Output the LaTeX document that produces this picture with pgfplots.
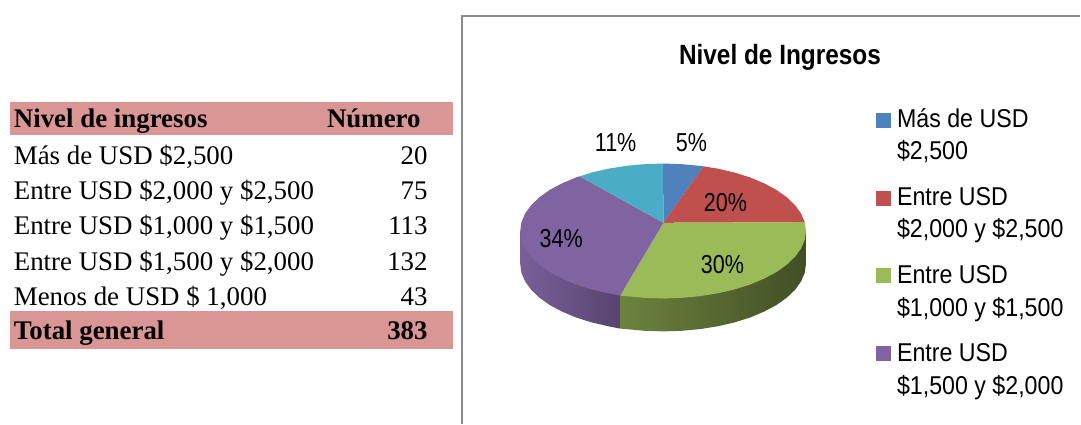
\documentclass[border=0pt]{standalone}
\usepackage{fontspec}
\usepackage{pgfplots}
\pgfplotsset{compat=1.18}
\setmainfont{Liberation Serif}
\newfontfamily\narrowsans[FakeStretch=0.9]{Liberation Sans}
\newfontfamily\pctsans[FakeStretch=0.83]{Liberation Sans}
\newfontfamily\narrowbold[FakeStretch=0.875]{Liberation Sans}

\definecolor{pieBlue}{HTML}{4F81BD}
\definecolor{pieRed}{HTML}{C0504D}
\definecolor{pieGreen}{HTML}{9BBB59}
\definecolor{piePurple}{HTML}{8064A2}
\definecolor{pieCyan}{HTML}{4BACC6}
\definecolor{band}{HTML}{D99694}
\definecolor{frame}{HTML}{8A8A8A}

\tikzset{
    tbl/.style={anchor=base west, inner sep=0pt, font=\fontsize{26.9}{30}\selectfont},
    num/.style={anchor=base east, inner sep=0pt, font=\fontsize{26.9}{30}\selectfont},
    leg/.style={anchor=base west, inner sep=0pt, font=\fontsize{25.8}{30}\narrowsans},
    pct/.style={anchor=base, inner sep=0pt, font=\fontsize{26}{28}\pctsans},
}

\begin{document}
\begin{tikzpicture}
\begin{axis}[
    scale only axis,
    x=1pt, y=1pt,
    xmin=-0.7, xmax=1080.3,
    ymin=-0.7, ymax=423.3,
    y dir=reverse,
    hide axis,
    clip=false,
]

% page background, keeps the picture at full size
\addplot[draw=none, fill=white] coordinates {(-0.7,-0.7) (1080.3,-0.7) (1080.3,423.3) (-0.7,423.3)} --cycle;

% table bands
\addplot[draw=none, fill=band] coordinates {(9,101) (453,101) (453,134) (9,134)} --cycle;
\addplot[draw=none, fill=band] coordinates {(9,311) (453,311) (453,349) (9,349)} --cycle;

% table text
\node[tbl] at (axis cs:13,127) {\bfseries Nivel de ingresos};
\node[num] at (axis cs:420.5,127) {\bfseries Número};
\node[tbl] at (axis cs:13,164) {Más de USD \$2,500};
\node[num] at (axis cs:427.5,164) {20};
\node[tbl] at (axis cs:13,199) {Entre USD \$2,000 y \$2,500};
\node[num] at (axis cs:427.5,199) {75};
\node[tbl] at (axis cs:13,234.5) {Entre USD \$1,000 y \$1,500};
\node[num] at (axis cs:427.5,234.5) {113};
\node[tbl] at (axis cs:13,270) {Entre USD \$1,500 y \$2,000};
\node[num] at (axis cs:427.5,270) {132};
\node[tbl] at (axis cs:13,305) {Menos de USD \$ 1,000};
\node[num] at (axis cs:427.5,305) {43};
\node[tbl] at (axis cs:13,339) {\bfseries Total general};
\node[num] at (axis cs:427.5,339) {\bfseries 383};

% chart frame
\addplot[frame, line width=2pt] coordinates {(461.5,423.3) (461.5,15) (1080.3,15)};
\node[anchor=base, inner sep=0pt, font=\fontsize{27.9}{30}\narrowbold\bfseries] at (axis cs:780,64) {Nivel de Ingresos};

% pie walls
\addplot[draw=none, left color=piePurple!95!black, right color=piePurple!68!black] coordinates {
  (520,230.5) (520,263.5) (521.2,272.3) (524.9,281) (530.9,289.3) (539.2,297.25) (549.5,304.6)
  (561.9,311.2) (575.9,317.1) (591.5,322) (608.3,325.9) (620,328.2) (620,290)} --cycle;
\addplot[draw=none, left color=pieGreen!70!black, middle color=pieGreen!42!black, right color=pieGreen!42!black] coordinates {
  (620,290) (620,328.2) (626,328.7) (644.3,330.4) (663,331) (681.7,330.4) (700,328.7) (717.7,325.9)
  (734.5,322) (750.1,317.1) (764.1,311.2) (776.5,304.6) (786.8,297.25) (795.1,289.3) (801.1,281)
  (804.8,272.3) (806,263.5) (806,230.5)} --cycle;

% pie top, rim
\addplot[draw=none, fill=pieBlue] coordinates {
  (663.3,222.3) (663,163) (681.7,163.6) (700,165.3) (703.6,165.8)} --cycle;
\addplot[draw=none, fill=pieRed] coordinates {
  (663.3,222.3) (703.6,165.8) (717.7,168.1) (734.5,172) (750.1,176.9) (764.1,182.8) (776.5,189.4)
  (786.8,196.75) (795.1,204.7) (801.1,213) (804.8,221.7)} --cycle;
\addplot[draw=none, fill=pieGreen] coordinates {
  (663.3,222.3) (804.8,221.7) (806,230.5) (804.8,239.3) (801.1,248) (795.1,256.3) (786.8,264.25)
  (776.5,271.6) (764.1,278.2) (750.1,284.1) (734.5,289) (717.7,292.9) (700,295.7) (681.7,297.4)
  (663,298) (644.3,297.4) (626,295.7) (620,295.2)} --cycle;
\addplot[draw=none, fill=piePurple] coordinates {
  (663.3,222.3) (620,295.2) (608.3,292.9) (591.5,289) (575.9,284.1) (561.9,278.2) (549.5,271.6)
  (539.2,264.25) (530.9,256.3) (524.9,248) (521.2,239.3) (520,230.5) (521.2,221.7) (524.9,213)
  (530.9,204.7) (539.2,196.75) (549.5,189.4) (561.9,182.8) (575.9,176.9) (579.5,175.8)} --cycle;
\addplot[draw=none, fill=pieCyan] coordinates {
  (663.3,222.3) (579.5,175.8) (591.5,172) (608.3,168.1) (626,165.3) (644.3,163.6) (663,163)} --cycle;

% data labels
\node[pct] at (axis cs:615.5,150.5) {11\%};
\node[pct] at (axis cs:691.5,150.5) {5\%};
\node[pct] at (axis cs:725.5,210.5) {20\%};
\node[pct] at (axis cs:722.5,273) {30\%};
\node[pct] at (axis cs:561,247) {34\%};

% legend
\addplot[draw=none, fill=pieBlue] coordinates {(876,112) (891,112) (891,127) (876,127)} --cycle;
\addplot[draw=none, fill=pieRed] coordinates {(876,190) (891,190) (891,205) (876,205)} --cycle;
\addplot[draw=none, fill=pieGreen] coordinates {(876,268) (891,268) (891,283) (876,283)} --cycle;
\addplot[draw=none, fill=piePurple] coordinates {(876,346) (891,346) (891,361) (876,361)} --cycle;
\node[leg] at (axis cs:897,126.5) {Más de USD};
\node[leg] at (axis cs:897,158.8) {\$2,500};
\node[leg] at (axis cs:897,204.5) {Entre USD};
\node[leg] at (axis cs:897,237.2) {\$2,000 y \$2,500};
\node[leg] at (axis cs:897,283.2) {Entre USD};
\node[leg] at (axis cs:897,316.2) {\$1,000 y \$1,500};
\node[leg] at (axis cs:897,361.5) {Entre USD};
\node[leg] at (axis cs:897,393.8) {\$1,500 y \$2,000};

\end{axis}
\end{tikzpicture}
\end{document}
